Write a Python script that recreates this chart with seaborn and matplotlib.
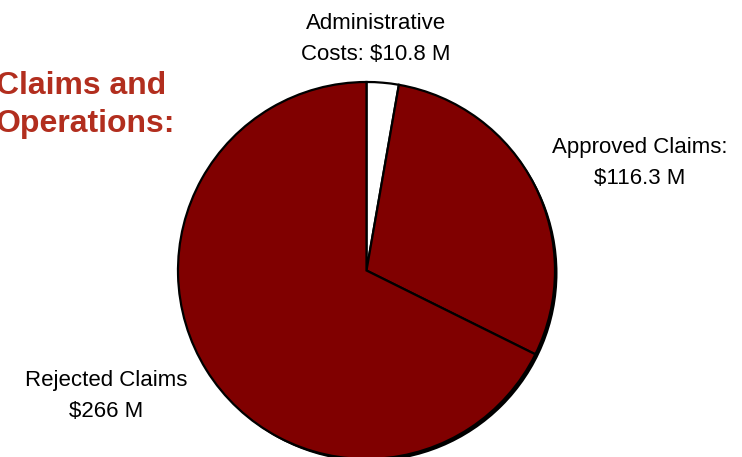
import matplotlib
matplotlib.use("Agg")
import matplotlib.pyplot as plt
from matplotlib.patches import Circle
import seaborn as sns

# Budget breakdown, in $ millions
categories = ["Administrative Costs", "Approved Claims", "Rejected Claims"]
values = [10.8, 116.3, 266.0]
labels = ["Administrative\nCosts: $10.8 M", "Approved Claims:\n$116.3 M", "Rejected Claims\n$266 M"]
slice_colors = ["#FFFFFF", "#800000", "#800000"]
title_lines = "Claims and\nOperations:"

sns.set_theme(style="white")
plt.rcParams["font.family"] = ["Liberation Sans", "DejaVu Sans"]

W, H = 742, 457
fig = plt.figure(figsize=(W / 100, H / 100), dpi=100)
ax = fig.add_axes([0, 0, 1, 1])

cx, cy, r = 366.5, H - 270.5, 188.5

# drop shadow behind the pie
ax.add_patch(Circle((cx + 2.5, cy - 2.5), r, facecolor="black", edgecolor="none", zorder=0))

wedges, _ = ax.pie(values, colors=slice_colors, startangle=90, counterclock=False,
                   center=(cx, cy), radius=r, frame=True,
                   wedgeprops=dict(edgecolor="black", linewidth=1.6))
for w in wedges:
    w.set_zorder(1)
ax.set_xlim(0, W)
ax.set_ylim(0, H)
ax.set_aspect("equal")
ax.axis("off")

lab_kw = dict(fontsize=16, color="black", ha="center", va="center", linespacing=1.65)
ax.text(376, H - 39, labels[0], **lab_kw)
ax.text(640, H - 163, labels[1], **lab_kw)
ax.text(106, H - 396, labels[2], **lab_kw)

ax.text(-4, H - 105, title_lines, fontsize=23, fontweight="bold", color="#B22E1E",
        ha="left", va="center", linespacing=1.35)

fig.savefig("out.png", dpi=100)
